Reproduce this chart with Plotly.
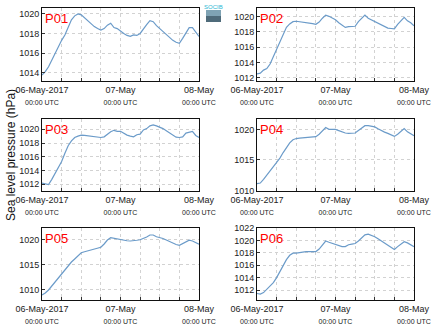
import pandas as pd
import plotly.graph_objects as go

W, H = 434, 327

# Hourly sea level pressure (hPa), 06-May-2017 00:00 UTC to 08-May-2017 00:00 UTC
times = pd.date_range("2017-05-06 00:00", "2017-05-08 00:00", freq="h")

p01 = [1013.75, 1014.1, 1014.6, 1015.3, 1016.0, 1016.7, 1017.3, 1017.85, 1018.7, 1019.4,
       1019.8, 1020.0, 1019.9, 1019.6, 1019.2, 1018.9, 1018.7, 1018.5, 1018.35, 1018.5,
       1018.85, 1019.05, 1018.6, 1018.5, 1018.2, 1018.0, 1017.8, 1017.7, 1017.85, 1017.8,
       1018.0, 1018.5, 1018.9, 1019.3, 1019.2, 1018.8, 1018.5, 1018.2, 1017.8, 1017.5,
       1017.3, 1017.1, 1017.0, 1017.5, 1018.0, 1018.6, 1018.6, 1018.2, 1017.7]
p02 = [1012.5, 1012.6, 1013.0, 1013.2, 1013.8, 1014.8, 1015.7, 1016.7, 1017.8, 1018.6,
       1019.05, 1019.35, 1019.4, 1019.35, 1019.3, 1019.25, 1019.2, 1019.1, 1019.0, 1019.3,
       1019.8, 1020.2, 1020.05, 1019.85, 1019.6, 1019.2, 1018.95, 1018.6, 1018.7, 1018.7,
       1018.75, 1019.35, 1019.8, 1020.2, 1019.8, 1019.6, 1019.4, 1019.1, 1018.9, 1018.7,
       1018.5, 1018.45, 1018.4, 1019.0, 1019.5, 1019.9, 1019.45, 1019.2, 1018.8]
p03 = [1012.15, 1012.05, 1011.95, 1012.7, 1013.6, 1014.5, 1015.3, 1016.5, 1017.6, 1018.3,
       1018.8, 1019.0, 1019.15, 1019.1, 1019.05, 1019.0, 1018.9, 1018.85, 1018.8, 1018.9,
       1019.3, 1019.65, 1019.85, 1019.7, 1019.7, 1019.4, 1019.15, 1019.0, 1018.9, 1019.2,
       1019.3, 1019.9, 1020.1, 1020.5, 1020.65, 1020.5, 1020.35, 1020.1, 1019.8, 1019.5,
       1019.2, 1018.85, 1018.8, 1018.9, 1019.45, 1019.6, 1019.7, 1019.1, 1018.8]
p04 = [1011.1, 1011.2, 1011.8, 1012.5, 1013.1, 1013.8, 1014.5, 1015.3, 1016.2, 1017.0,
       1017.8, 1018.3, 1018.5, 1018.55, 1018.6, 1018.65, 1018.7, 1018.75, 1018.8, 1019.2,
       1019.8, 1020.3, 1020.0, 1019.95, 1020.0, 1019.8, 1019.6, 1019.4, 1019.35, 1019.35,
       1019.4, 1019.8, 1020.2, 1020.6, 1020.6, 1020.45, 1020.4, 1020.1, 1019.8, 1019.55,
       1019.35, 1019.1, 1018.85, 1019.2, 1019.7, 1020.15, 1019.6, 1019.3, 1018.95]
p05 = [1008.9, 1009.3, 1009.9, 1010.7, 1011.7, 1012.5, 1013.2, 1014.0, 1014.8, 1015.5,
       1016.1, 1016.8, 1017.35, 1017.55, 1017.7, 1017.85, 1018.05, 1018.25, 1018.45, 1019.1,
       1019.9, 1020.35, 1020.2, 1020.2, 1020.05, 1019.85, 1019.75, 1019.7, 1019.7, 1019.85,
       1019.95, 1020.2, 1020.5, 1020.9, 1020.9, 1020.55, 1020.4, 1020.2, 1019.9, 1019.55,
       1019.25, 1019.0, 1018.85, 1019.15, 1019.45, 1019.85, 1019.7, 1019.4, 1019.05]
p06 = [1011.45, 1011.35, 1011.6, 1012.1, 1012.6, 1013.2, 1014.0, 1015.0, 1016.0, 1016.9,
       1017.6, 1017.95, 1017.95, 1018.05, 1018.1, 1018.2, 1018.2, 1018.15, 1018.2, 1018.6,
       1019.3, 1019.9, 1019.7, 1019.5, 1019.4, 1019.15, 1019.0, 1019.0, 1019.3, 1019.4,
       1019.5, 1019.9, 1020.4, 1020.9, 1021.0, 1020.85, 1020.6, 1020.25, 1019.9, 1019.55,
       1019.2, 1018.85, 1018.55, 1019.0, 1019.4, 1019.8, 1019.6, 1019.3, 1019.0]

station_names = ["P01", "P02", "P03", "P04", "P05", "P06"]
station_series = [p01, p02, p03, p04, p05, p06]
y_ranges = [[1013.15, 1020.6], [1011.57, 1021.14], [1011.0, 1021.5],
            [1009.9, 1021.7], [1007.9, 1022.3], [1010.4, 1022.0]]
y_steps = [2, 2, 2, 5, 5, 2]

# 6-hourly ticks; only midnights carry a label
tick_times = pd.date_range("2017-05-06 00:00", "2017-05-08 00:00", freq="6h")
day_labels = {0: "06-May-2017", 4: "07-May", 8: "08-May"}
sub = "<br><span style='font-size:7px'>00:00 UTC</span>"
tick_text = [(day_labels[i] + sub) if i in day_labels else "" for i in range(len(tick_times))]

# Panel frames in pixels (left, right, top, bottom)
cols = [(42, 199), (257, 414)]
rows = [(8, 81), (119, 191), (228, 300)]

FONT = "Liberation Sans, Arial, sans-serif"
LINE = "#6b9bc9"
GRID = "#d2d2d2"

fig = go.Figure()
layout = dict(
    width=W, height=H,
    margin=dict(l=0, r=0, t=0, b=0),
    paper_bgcolor="white", plot_bgcolor="white",
    showlegend=False,
    font=dict(family=FONT, size=9, color="#222"),
    annotations=[], shapes=[],
)

for k, (name, vals) in enumerate(zip(station_names, station_series)):
    r, c = divmod(k, 2)
    x0, x1 = cols[c]
    top, bot = rows[r]
    ax = "" if k == 0 else str(k + 1)
    fig.add_trace(go.Scatter(
        x=times, y=vals, mode="lines",
        line=dict(color=LINE, width=1.2),
        xaxis="x" + ax, yaxis="y" + ax,
    ))
    layout["xaxis" + ax] = dict(
        domain=[x0 / W, x1 / W], anchor="y" + ax, automargin=False,
        range=[times[0], times[-1]],
        tickmode="array", tickvals=list(tick_times), ticktext=tick_text,
        ticks="inside", ticklen=3, tickcolor="#333",
        showgrid=True, gridcolor=GRID, griddash="dot", gridwidth=1,
        showline=True, mirror=True, linecolor="#111", linewidth=1,
        tickfont=dict(size=9, family=FONT, color="#222"),
        zeroline=False,
    )
    layout["yaxis" + ax] = dict(
        domain=[1 - bot / H, 1 - top / H], anchor="x" + ax, automargin=False,
        range=y_ranges[k], dtick=y_steps[k], tick0=1000,
        ticks="inside", ticklen=3, tickcolor="#333",
        showgrid=True, gridcolor=GRID, griddash="dot", gridwidth=1,
        showline=True, mirror=True, linecolor="#111", linewidth=1,
        tickfont=dict(size=9, family=FONT, color="#222"),
        zeroline=False,
    )
    layout["annotations"].append(dict(
        text=name, xref="paper", yref="paper",
        x=(x0 + 1) / W, y=1 - (top + 1) / H, xanchor="left", yanchor="top",
        showarrow=False, font=dict(size=13, color="red", family=FONT),
    ))

# Shared y-axis title
layout["annotations"].append(dict(
    text="Sea level pressure (hPa)", xref="paper", yref="paper",
    x=2 / W, y=1 - 155 / H, xanchor="left", yanchor="middle",
    textangle=-90, showarrow=False,
    font=dict(size=12, family=FONT, color="#111"),
))

# Small SOCIB badge between the top panels
layout["shapes"] += [
    dict(type="rect", xref="paper", yref="paper", x0=206 / W, x1=221 / W,
         y0=1 - 16 / H, y1=1 - 10 / H, fillcolor="#7fa3b4", line=dict(width=0)),
    dict(type="rect", xref="paper", yref="paper", x0=206 / W, x1=221 / W,
         y0=1 - 22 / H, y1=1 - 16 / H, fillcolor="#4f6b7a", line=dict(width=0)),
]
layout["annotations"].append(dict(
    text="SOCIB", xref="paper", yref="paper", x=213.5 / W, y=1 - 2 / H,
    xanchor="center", yanchor="top", showarrow=False,
    font=dict(size=6, color="#29b7d3", family=FONT),
))

fig.update_layout(**layout)
fig.write_html("out.html")
